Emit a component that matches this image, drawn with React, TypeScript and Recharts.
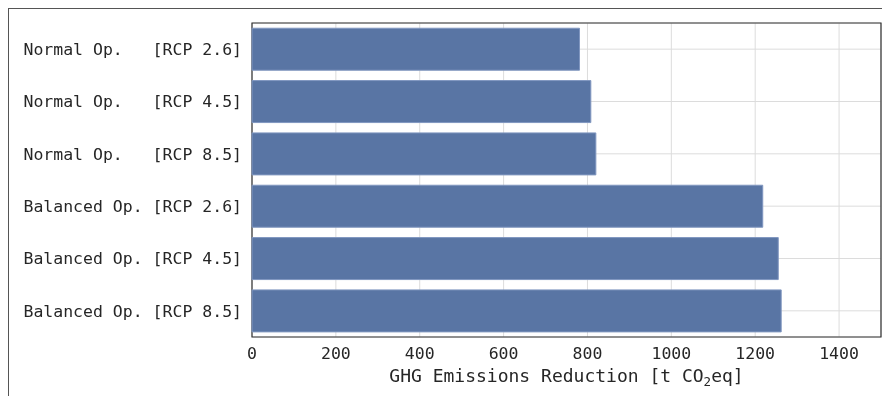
import { BarChart, Bar, XAxis, YAxis, CartesianGrid, ReferenceArea } from 'recharts';

const scenarios = [
  'Normal Op.   [RCP 2.6]',
  'Normal Op.   [RCP 4.5]',
  'Normal Op.   [RCP 8.5]',
  'Balanced Op. [RCP 2.6]',
  'Balanced Op. [RCP 4.5]',
  'Balanced Op. [RCP 8.5]',
];
const reductions = [781, 808, 820, 1218, 1255, 1262];
const xTicks = [0, 200, 400, 600, 800, 1000, 1200, 1400];

const FONT = '"DejaVu Sans Mono", monospace';
const TEXT = '#262626';

const rows = scenarios.map((s, i) => ({ name: s, value: reductions[i] }));

function AxisTitle(props: any) {
  const vb = props.viewBox;
  const cx = vb.x + vb.width / 2;
  return (
    <text x={cx} y={vb.y + 45} textAnchor="middle" fontFamily={FONT} fontSize={18} fill={TEXT}>
      GHG Emissions Reduction [t CO<tspan fontSize={12.5} dy={4}>2</tspan>
      <tspan dy={-4}>eq]</tspan>
    </text>
  );
}

function YTick(props: any) {
  const { x, y, payload } = props;
  return (
    <text x={x} y={y} dy="0.35em" textAnchor="end" fontFamily={FONT} fontSize={16.5} fill={TEXT} style={{ whiteSpace: 'pre' }} xmlSpace="preserve">
      {payload.value}
    </text>
  );
}

export default function App() {
  return (
    <div
      style={{
        position: 'fixed',
        left: 8,
        top: 8,
        width: 880,
        height: 400,
        borderTop: '1px solid #555',
        borderLeft: '1px solid #555',
      }}
    >
      <BarChart
        width={873}
        height={388}
        layout="vertical"
        data={rows}
        margin={{ top: 14, right: 1, left: 0, bottom: 0 }}
        barCategoryGap="10%"
      >
        <CartesianGrid stroke="#dcdcdc" strokeWidth={1} />
        <XAxis
          type="number"
          domain={[0, 1500]}
          ticks={xTicks}
          height={60}
          axisLine={false}
          tickLine={false}
          tickSize={0}
          tickMargin={10}
          tick={{ fontFamily: FONT, fontSize: 16.5, fill: TEXT }}
          label={<AxisTitle />}
        />
        <YAxis
          type="category"
          dataKey="name"
          width={243}
          axisLine={false}
          tickLine={false}
          tickSize={0}
          tickMargin={10}
          tick={<YTick />}
        />
        <Bar dataKey="value" fill="#5975a4" stroke="#8197c0" strokeWidth={1} isAnimationActive={false} />
        <ReferenceArea x1={0} x2={1500} fill="none" stroke="#333" strokeWidth={1.2} ifOverflow="visible" />
      </BarChart>
    </div>
  );
}
